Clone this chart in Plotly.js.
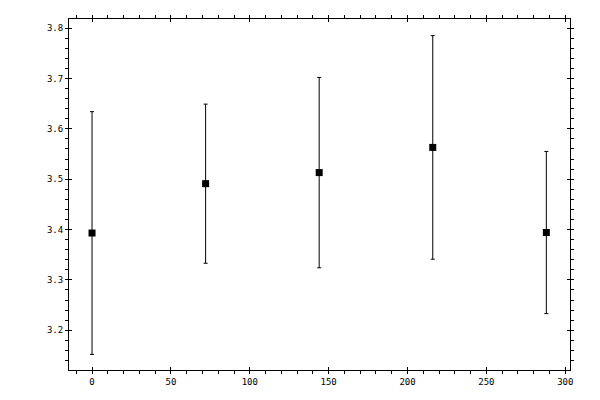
<!DOCTYPE html>
<html>
<head>
<meta charset="utf-8">
<script src="https://cdn.plot.ly/plotly-3.0.1.min.js"></script>
<style>
  html, body { margin: 0; padding: 0; background: #fff; }
  #chart { width: 600px; height: 400px; }
</style>
</head>
<body>
<div id="chart"></div>
<script>
// data
const xs = [0, 72, 144, 216, 288];
const ys = [3.393, 3.491, 3.513, 3.563, 3.394];
const errs = [0.241, 0.158, 0.189, 0.222, 0.161];

const xRange = [-14.6, 303];
const yRange = [3.121, 3.818];

const font = { family: 'DejaVu Sans Mono, monospace', size: 9, color: '#000' };

const traces = [
    {
        x: xs, y: ys, type: 'scatter', mode: 'markers',
        marker: { symbol: 'square', size: 7, color: '#000' },
        error_y: { type: 'data', array: errs, visible: true, color: '#000', thickness: 1, width: 2 },
        showlegend: false, hoverinfo: 'skip'
    },
    // dummy trace so the inner-tick overlay axes get drawn
    {
        x: xs, y: ys, xaxis: 'x2', yaxis: 'y2', type: 'scatter', mode: 'markers',
        marker: { opacity: 0 }, showlegend: false, hoverinfo: 'skip'
    }
];

const layout = {
    width: 600, height: 400,
    paper_bgcolor: '#fff', plot_bgcolor: '#fff',
    margin: { l: 69, r: 30, t: 19, b: 30 },
    font: font,
    xaxis: {
        range: xRange, dtick: 50, tick0: 0,
        ticks: 'outside', ticklen: 3, tickwidth: 1, tickcolor: '#000',
        minor: { dtick: 10, ticks: 'outside', ticklen: 3, tickwidth: 1, tickcolor: '#000' },
        showline: true, linecolor: '#000', linewidth: 1, mirror: 'ticks',
        showgrid: false, zeroline: false, tickfont: font
    },
    yaxis: {
        range: yRange, dtick: 0.1, tick0: 3.2, tickformat: '.1f',
        ticks: 'outside', ticklen: 3, tickwidth: 1, tickcolor: '#000',
        minor: { dtick: 0.02, ticks: 'outside', ticklen: 3, tickwidth: 1, tickcolor: '#000' },
        showline: true, linecolor: '#000', linewidth: 1, mirror: 'ticks',
        showgrid: false, zeroline: false, tickfont: font
    },
    xaxis2: {
        overlaying: 'x', range: xRange, dtick: 50, tick0: 0,
        ticks: 'inside', ticklen: 3, tickwidth: 1, tickcolor: '#000',
        mirror: 'ticks', showline: false, showticklabels: false,
        showgrid: false, zeroline: false
    },
    yaxis2: {
        overlaying: 'y', range: yRange, dtick: 0.1, tick0: 3.2,
        ticks: 'inside', ticklen: 3, tickwidth: 1, tickcolor: '#000',
        mirror: 'ticks', showline: false, showticklabels: false,
        showgrid: false, zeroline: false
    }
};

Plotly.newPlot('chart', traces, layout, { staticPlot: true });
</script>
</body>
</html>
